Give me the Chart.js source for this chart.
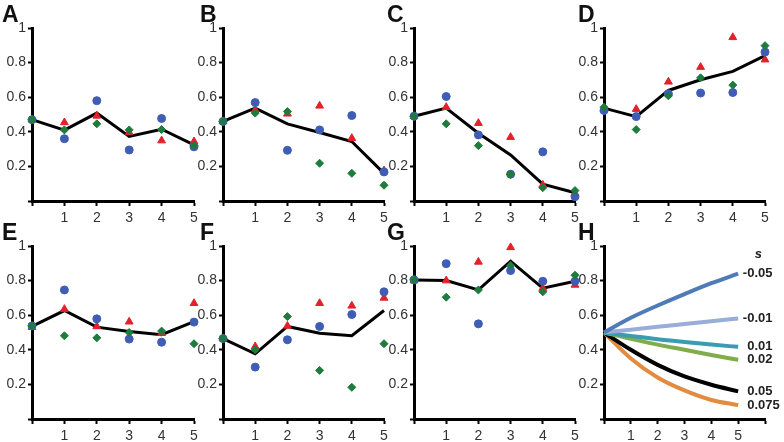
<!DOCTYPE html>
<html>
<head>
<meta charset="utf-8">
<script src="https://cdn.jsdelivr.net/npm/chart.js@4"></script>
<style>
  html, body { margin: 0; padding: 0; background: #fff; overflow: hidden; }
  #fig { position: relative; width: 784px; height: 442px; }
  #fig canvas { position: absolute; }
  .tag { position: absolute; font: bold 23px 'Liberation Sans', Arial, sans-serif; line-height: 1; color: #111; }
</style>
</head>
<body>
<div id="fig"></div>
<script>
// generations on the x axis, and tick labels
const steps = [0, 1, 2, 3, 4, 5];
const xTicks = [0, 1, 2, 3, 4, 5];
const xTickLabels = ['', '1', '2', '3', '4', '5'];
const xTicksH = [0, 1, 2, 3, 4, 5, 6];
const xTickLabelsH = ['', '1', '2', '3', '4', '5', ''];
const yTicks = [0, 0.2, 0.4, 0.6, 0.8, 1];
const yTickLabels = ['', '0.2', '0.4', '0.6', '0.8', '1'];

// panel A
const blueA  = [0.47, 0.36, 0.58, 0.295, 0.477, 0.313];
const redA   = [0.47, 0.454, 0.492, 0.396, 0.349, 0.344];
const greenA = [0.47, 0.411, 0.446, 0.411, 0.413, 0.32];
const meanA  = [0.47, 0.41, 0.508, 0.373, 0.415, 0.324];
// panel B
const blueB  = [0.46, 0.569, 0.293, 0.411, 0.494, 0.168];
const redB   = [0.46, 0.527, 0.504, 0.55, 0.363, 0.176];
const greenB = [0.46, 0.508, 0.517, 0.218, 0.16, 0.091];
const meanB  = [0.46, 0.537, 0.446, 0.396, 0.344, 0.16];
// panel C
const blueC  = [0.49, 0.604, 0.382, 0.155, 0.284, 0.025];
const redC   = [0.49, 0.542, 0.45, 0.369, 0.093, 0.044];
const greenC = [0.49, 0.446, 0.32, 0.153, 0.077, 0.06];
const meanC  = [0.49, 0.537, 0.392, 0.266, 0.097, 0.048];
// panel D
const blueD  = [0.523, 0.488, 0.62, 0.624, 0.627, 0.861];
const redD   = [0.531, 0.531, 0.689, 0.774, 0.946, 0.817];
const greenD = [0.542, 0.413, 0.608, 0.712, 0.67, 0.898];
const meanD  = [0.537, 0.488, 0.639, 0.701, 0.749, 0.84];
// panel E
const blueE  = [0.538, 0.746, 0.579, 0.462, 0.444, 0.56];
const redE   = [0.531, 0.635, 0.535, 0.562, 0.496, 0.669];
const greenE = [0.538, 0.481, 0.469, 0.5, 0.508, 0.435];
const meanE  = [0.535, 0.627, 0.531, 0.506, 0.487, 0.563];
// panel F
const blueF  = [0.465, 0.3, 0.458, 0.535, 0.604, 0.735];
const redF   = [0.465, 0.419, 0.538, 0.669, 0.654, 0.7];
const greenF = [0.465, 0.4, 0.592, 0.281, 0.183, 0.435];
const meanF  = [0.465, 0.377, 0.535, 0.496, 0.481, 0.627];
// panel G
const blueG  = [0.804, 0.898, 0.55, 0.858, 0.796, 0.796];
const redG   = [0.8, 0.8, 0.908, 0.992, 0.756, 0.775];
const greenG = [0.804, 0.704, 0.746, 0.888, 0.735, 0.831];
const meanG  = [0.804, 0.8, 0.746, 0.912, 0.756, 0.796];
// panel H: trajectories for several s
const sLabels = ['-0.05', '-0.01', '0.01', '0.02', '0.05', '0.075'];
const sM005 = [0.5, 0.585, 0.656, 0.722, 0.785, 0.84];
const sM001 = [0.5, 0.516, 0.533, 0.549, 0.565, 0.581];
const sP001 = [0.5, 0.48, 0.461, 0.445, 0.43, 0.417];
const sP002 = [0.5, 0.463, 0.43, 0.4, 0.37, 0.342];
const sP005 = [0.5, 0.4, 0.313, 0.246, 0.198, 0.16];
const sP0075 = [0.5, 0.35, 0.24, 0.165, 0.11, 0.08];
const sColors = ['#4f7cb8', '#98add8', '#3b9bb1', '#80ac4c', '#000000', '#e38b3e'];

const FONT = "'Liberation Sans', Arial, sans-serif";
const BLUE = '#3f5db5', RED = '#e4202a', GREEN = '#1e7b3c';

// layout: pixel x of each y axis, plot widths, plot tops
const colX = [32, 223, 414, 604];
const colW = [162, 161, 161, 161];
const tagX = [2, 200, 387, 578];
const rowTop = [28, 246];
const plotH = 173;

const fig = document.getElementById('fig');

function axis(isX, vals, labels, max, fixed) {
  return {
    type: 'linear', min: 0, max: max,
    border: { display: true, color: '#000', width: 3 },
    grid: { display: true, drawOnChartArea: false, drawTicks: true,
            tickLength: isX ? 5 : 4, tickWidth: 2, tickColor: '#000' },
    ticks: { color: '#333', font: { family: FONT, size: 14 }, padding: isX ? 4 : 2,
             autoSkip: false, maxRotation: 0, callback: (v, i) => labels[i] },
    afterBuildTicks: s => { s.ticks = vals.map(v => ({ value: v })); },
    afterFit: s => { if (isX) s.height = fixed; else s.width = fixed; }
  };
}

function pts(arr) { return steps.map((x, i) => ({ x: x, y: arr[i] })); }

function addCanvas(col, row, padR) {
  const c = document.createElement('canvas');
  c.width = 32 + colW[col] + padR;
  c.height = 28 + plotH + 22;
  c.style.left = (colX[col] - 32) + 'px';
  c.style.top = (rowTop[row] - 28) + 'px';
  fig.appendChild(c);
  return c;
}

function addTag(letter, col, row) {
  const d = document.createElement('div');
  d.className = 'tag';
  d.textContent = letter;
  d.style.left = tagX[col] + 'px';
  d.style.top = (rowTop[row] - 25) + 'px';
  fig.appendChild(d);
}

const baseOpts = (xVals, xLabels, xMax, padR) => ({
  responsive: false, animation: false, devicePixelRatio: 1,
  layout: { padding: { top: 28, right: padR, left: 0, bottom: 0 } },
  plugins: { legend: { display: false }, tooltip: { enabled: false } },
  scales: {
    x: axis(true, xVals, xLabels, xMax, 22),
    y: axis(false, yTicks, yTickLabels, 1, 32)
  }
});

const panels = [
  { id: 'A', col: 0, row: 0, blue: blueA, red: redA, green: greenA, mean: meanA },
  { id: 'B', col: 1, row: 0, blue: blueB, red: redB, green: greenB, mean: meanB },
  { id: 'C', col: 2, row: 0, blue: blueC, red: redC, green: greenC, mean: meanC },
  { id: 'D', col: 3, row: 0, blue: blueD, red: redD, green: greenD, mean: meanD },
  { id: 'E', col: 0, row: 1, blue: blueE, red: redE, green: greenE, mean: meanE },
  { id: 'F', col: 1, row: 1, blue: blueF, red: redF, green: greenF, mean: meanF },
  { id: 'G', col: 2, row: 1, blue: blueG, red: redG, green: greenG, mean: meanG }
];

panels.forEach(p => {
  const padR = 8;
  const c = addCanvas(p.col, p.row, padR);
  addTag(p.id, p.col, p.row);
  new Chart(c.getContext('2d'), {
    type: 'line',
    data: {
      datasets: [
        { data: pts(p.green), showLine: false, pointStyle: 'rectRot', pointRadius: 4,
          backgroundColor: GREEN, borderColor: GREEN, borderWidth: 1, clip: false },
        { data: pts(p.blue), showLine: false, pointStyle: 'circle', pointRadius: 4,
          backgroundColor: BLUE, borderColor: BLUE, borderWidth: 1, clip: false },
        { data: pts(p.red), showLine: false, pointStyle: 'triangle', pointRadius: 4.5,
          backgroundColor: RED, borderColor: RED, borderWidth: 1, clip: false },
        { data: pts(p.mean), borderColor: '#000', borderWidth: 3, pointRadius: 0,
          tension: 0, clip: false }
      ]
    },
    options: baseOpts(xTicks, xTickLabels, 5, padR)
  });
});

// panel H with curve labels
const sLabelPlugin = {
  id: 'sLabels',
  afterDatasetsDraw(chart) {
    const ctx = chart.ctx;
    ctx.save();
    ctx.font = 'bold 13px ' + FONT;
    ctx.fillStyle = '#222';
    ctx.textBaseline = 'middle';
    chart.data.datasets.forEach((ds, i) => {
      const pt = chart.getDatasetMeta(i).data[ds.data.length - 1];
      const txt = sLabels[i];
      const dash = txt[0] === '-' ? ctx.measureText('-').width : 0;
      ctx.fillText(txt, pt.x + 9 - dash, pt.y);
    });
    ctx.font = 'italic bold 13px ' + FONT;
    ctx.textAlign = 'center';
    ctx.fillText('s', chart.scales.x.getPixelForValue(5.75), chart.scales.y.getPixelForValue(0.95));
    ctx.restore();
  }
};

const hPadR = 784 - (colX[3] + colW[3]);
const cH = addCanvas(3, 1, hPadR);
addTag('H', 3, 1);
const sSeries = [sM005, sM001, sP001, sP002, sP005, sP0075];
new Chart(cH.getContext('2d'), {
  type: 'line',
  data: {
    datasets: sSeries.map((arr, i) => ({
      data: pts(arr), borderColor: sColors[i], borderWidth: 4, pointRadius: 0,
      cubicInterpolationMode: 'monotone', clip: false
    }))
  },
  options: baseOpts(xTicksH, xTickLabelsH, 6, hPadR),
  plugins: [sLabelPlugin]
});
</script>
</body>
</html>
